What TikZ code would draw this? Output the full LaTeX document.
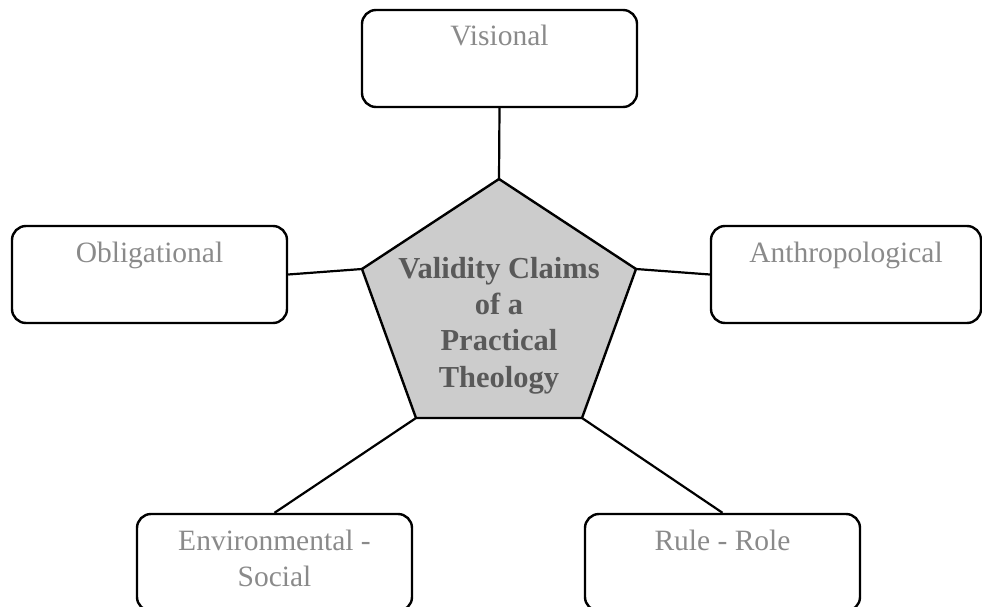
\documentclass[tikz,border=0pt]{standalone}
\usepackage{fontspec}
\setmainfont{Liberation Serif}
\definecolor{labelgray}{HTML}{8A8A8A}
\definecolor{coregray}{HTML}{595959}
\definecolor{corefill}{HTML}{CCCCCC}
% box text: top-aligned, first baseline 36pt below the box top
\newcommand{\boxtext}[2][275pt]{\parbox[t][97pt][t]{#1}{\centering\rule{0pt}{36pt}#2}}
\tikzset{
  claim/.style={draw=black, line width=2.4pt, rounded corners=14pt, inner sep=0pt,
    text=labelgray, font=\fontsize{29.5}{36}\selectfont},
  link/.style={draw=black, line width=2.2pt},
  core/.style={fill=corefill, draw=black, line width=2.4pt, line join=miter},
  coretext/.style={align=center, text=coregray, inner sep=0pt,
    font=\fontsize{30.5}{36.3}\selectfont\bfseries}
}
\begin{document}
\begin{tikzpicture}[x=1pt, y=-1pt]
\path[use as bounding box, clip] (0,0) rectangle (982,607);

% central pentagon
\coordinate (ptop) at (499,179);
\coordinate (pul) at (362,269);
\coordinate (pur) at (636,269);
\coordinate (pbl) at (416,418);
\coordinate (pbr) at (582,418);
\path[core] (ptop) -- (pur) -- (pbr) -- (pbl) -- (pul) -- cycle;
\node[coretext] (core) at (499,325.5) {Validity Claims\\of a\\Practical\\Theology};

% claim boxes
\node[claim] (vis) at (499.5,58.5) {\boxtext{Visional}};
\node[claim] (obl) at (149.5,274.5) {\boxtext{Obligational}};
\node[claim] (ant) at (846,274.5) {\boxtext[270pt]{Anthropological}};
\node[claim] (env) at (274.5,562.5) {\boxtext{Environmental -\\Social}};
\node[claim] (rul) at (722.5,562.5) {\boxtext{Rule - Role}};

% connectors
\draw[link] (vis.south) -- (ptop);
\draw[link] (obl.east) -- (pul);
\draw[link] (ant.west) -- (pur);
\draw[link] (env.north) -- (pbl);
\draw[link] (rul.north) -- (pbr);
\end{tikzpicture}
\end{document}
